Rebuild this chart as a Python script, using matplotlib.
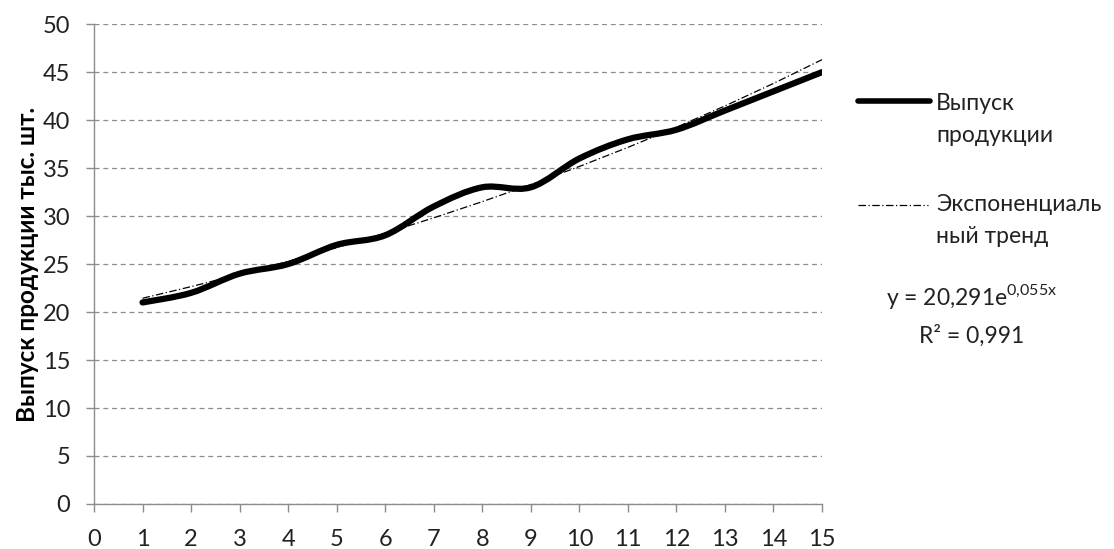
import numpy as np
import matplotlib
matplotlib.use('Agg')
import matplotlib.pyplot as plt
from matplotlib.path import Path
from matplotlib.patches import PathPatch
from matplotlib.lines import Line2D

# data
periods = [1, 2, 3, 4, 5, 6, 7, 8, 9, 10, 11, 12, 13, 14, 15]
output = [21, 22, 24, 25, 27, 28, 31, 33, 33, 36, 38, 39, 41, 43, 45]
trend_a = 20.291
trend_b = 0.055
x_ticks = list(range(0, 16))
y_ticks = list(range(0, 51, 5))

plt.rcParams['font.family'] = ['Lato', 'DejaVu Sans']
plt.rcParams['mathtext.fontset'] = 'custom'
plt.rcParams['mathtext.rm'] = 'Lato'

FS = 16.5
TREND_LS = (0, (6, 2, 1, 2))

fig = plt.figure(figsize=(11.14, 5.49), dpi=100)
ax = fig.add_axes([0.0844, 0.082, 0.6535, 0.874])

# smoothed line like excel (catmull-rom -> bezier segments)
xs = np.array(periods, dtype=float)
ys = np.array(output, dtype=float)
verts = [(xs[0], ys[0])]
codes = [Path.MOVETO]
n = len(xs)
for i in range(n - 1):
    p0 = (xs[max(i - 1, 0)], ys[max(i - 1, 0)])
    p1 = (xs[i], ys[i])
    p2 = (xs[i + 1], ys[i + 1])
    p3 = (xs[min(i + 2, n - 1)], ys[min(i + 2, n - 1)])
    c1 = (p1[0] + (p2[0] - p0[0]) / 6, p1[1] + (p2[1] - p0[1]) / 6)
    c2 = (p2[0] - (p3[0] - p1[0]) / 6, p2[1] - (p3[1] - p1[1]) / 6)
    verts += [c1, c2, p2]
    codes += [Path.CURVE4] * 3
patch = PathPatch(Path(verts, codes), facecolor='none', edgecolor='black',
                  lw=4.5, capstyle='round', joinstyle='round', zorder=3)
ax.add_patch(patch)

trend = [trend_a * np.exp(trend_b * x) for x in periods]
ax.plot(periods, trend, color='black', lw=0.9, ls=TREND_LS, zorder=4)

ax.set_xlim(0, 15)
ax.set_ylim(0, 50)
ax.set_xticks(x_ticks)
ax.set_yticks(y_ticks)
ax.yaxis.grid(True, color='#8c8c8c', ls=(0, (4, 3)), lw=0.9)
ax.set_axisbelow(True)
for s in ['top', 'right']:
    ax.spines[s].set_visible(False)
for s in ['left', 'bottom']:
    ax.spines[s].set_color('#8c8c8c')
    ax.spines[s].set_linewidth(1.0)
ax.tick_params(axis='both', colors='#8c8c8c', labelcolor='#222222',
               labelsize=FS + 0.5, length=6, width=1.0)
ax.tick_params(axis='y', pad=11)
ax.tick_params(axis='x', pad=12)
ax.set_ylabel('Выпуск продукции тыс. шт.', fontsize=17.5, fontweight='bold',
              labelpad=3)

# legend drawn by hand (excel puts the key next to the first line of text)
tr = fig.transFigure
fig.add_artist(Line2D([0.7702, 0.8348], [0.816, 0.816], transform=tr,
                      color='black', lw=4, solid_capstyle='round'))
fig.text(0.8402, 0.7996, 'Выпуск', fontsize=FS, va='baseline', color='#222222')
fig.text(0.8402, 0.7413, 'продукции', fontsize=FS, va='baseline', color='#222222')
fig.add_artist(Line2D([0.7702, 0.8330], [0.626, 0.626], transform=tr,
                      color='black', lw=0.9, ls=TREND_LS))
fig.text(0.8402, 0.6157, 'Экспоненциаль', fontsize=FS, va='baseline', color='#222222')
fig.text(0.8402, 0.5574, 'ный тренд', fontsize=FS, va='baseline', color='#222222')

# trend equation
fig.text(0.8725, 0.4444, 'y = 20,291e$^{\\mathregular{0{,}055x}}$',
         fontsize=FS, ha='center', va='baseline', color='#222222')
fig.text(0.8725, 0.3752, 'R² = 0,991', fontsize=FS, ha='center',
         va='baseline', color='#222222')

fig.savefig('out.png', dpi=100)
